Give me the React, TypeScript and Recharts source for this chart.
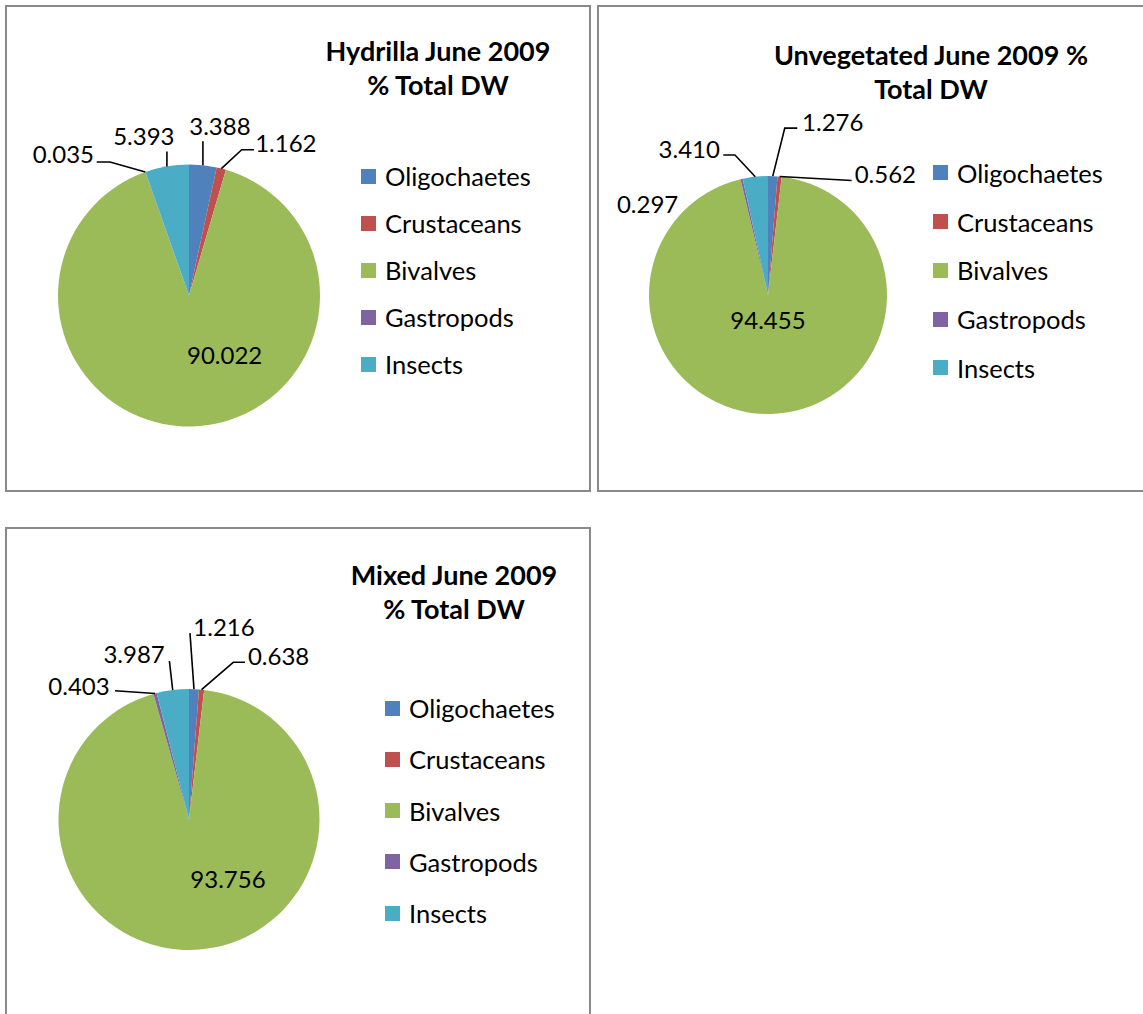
import React from 'react';
import { PieChart, Pie, Cell, Legend } from 'recharts';

// ---------- data ----------
const CATEGORIES = ['Oligochaetes', 'Crustaceans', 'Bivalves', 'Gastropods', 'Insects'];
const HYDRILLA = [3.388, 1.162, 90.022, 0.035, 5.393];
const UNVEGETATED = [1.276, 0.562, 94.455, 0.297, 3.41];
const MIXED = [1.216, 0.638, 93.756, 0.403, 3.987];
const TITLES = [
  ['Hydrilla June 2009', '% Total DW'],
  ['Unvegetated June 2009 %', 'Total DW'],
  ['Mixed June 2009', '% Total DW'],
];

// ---------- styles ----------
const COLORS = ['#4F81BD', '#C0504D', '#9BBB59', '#8064A2', '#4BACC6'];
const FONT = "Lato, 'Open Sans', 'Noto Sans', sans-serif";
const BORDER = '#898989';

type LabelLayout = { text: [number, number]; leader?: [number, number][] };

// label text offset & leader polyline, relative to the slice's outer-edge midpoint
const LAYOUT_HYDRILLA: LabelLayout[] = [
  { text: [17, -40], leader: [[0, 0], [0, -24]] },
  { text: [64.5, -26.4], leader: [[0, 0], [20.4, -18.8], [32.7, -18.8]] },
  { text: [32, -72] },
  { text: [-82, -18.2], leader: [[0, 0], [-35.3, -10], [-48.6, -10]] },
  { text: [-23.1, -31.2], leader: [[0, 0], [0, -15]] },
];
const LAYOUT_UNVEG: LabelLayout[] = [
  { text: [60, -55], leader: [[0, 0], [12, -48], [24.5, -48]] },
  { text: [105.7, -3.3], leader: [[0, 0], [72, 4]] },
  { text: [-7, -94] },
  { text: [-94, 24.3] },
  { text: [-66, -28.4], leader: [[0, 0], [-20.3, -21.7], [-32, -21.7]] },
];
const LAYOUT_MIXED: LabelLayout[] = [
  { text: [30, -62.5], leader: [[0, 0], [-4, -56]] },
  { text: [77, -34.6], leader: [[0, 0], [31.7, -27.3], [43.4, -27.3]] },
  { text: [28.6, -70.6] },
  { text: [-76, -8], leader: [[0, 0], [-40, -2.8]] },
  { text: [-38.6, -36.7], leader: [[0, 0], [-3.3, -29]] },
];

const RAD = Math.PI / 180;

function makeLabel(layout: LabelLayout[]) {
  return (props: any) => {
    const { cx, cy, midAngle, outerRadius, index, value } = props;
    const ex = cx + outerRadius * Math.cos(midAngle * RAD);
    const ey = cy - outerRadius * Math.sin(midAngle * RAD);
    const l = layout[index];
    const pts = l.leader ? l.leader.map(([dx, dy]) => `${ex + dx},${ey + dy}`).join(' ') : null;
    return (
      <g key={`lbl-${index}`}>
        {pts && <polyline points={pts} fill="none" stroke="#000" strokeWidth={1.6} />}
        <text
          x={ex + l.text[0]}
          y={ey + l.text[1]}
          textAnchor="middle"
          dominantBaseline="central"
          fontFamily={FONT}
          fontSize={24}
          fill="#000"
        >
          {Number(value).toFixed(3)}
        </text>
      </g>
    );
  };
}

function makeLegend(spacing: number) {
  return (props: any) => {
    const payload = [...(props.payload || [])].sort(
      (a: any, b: any) => CATEGORIES.indexOf(a.value) - CATEGORIES.indexOf(b.value)
    );
    return (
      <div style={{ fontFamily: FONT, fontSize: 25.5, color: '#000' }}>
        {payload.map((p: any, i: number) => (
          <div key={i} style={{ height: spacing, display: 'flex', alignItems: 'center', whiteSpace: 'nowrap' }}>
            <span style={{ width: 15, height: 15, background: p.color, display: 'inline-block', marginRight: 9, flex: 'none' }} />
            <span>{p.value}</span>
          </div>
        ))}
      </div>
    );
  };
}

type PanelProps = {
  left: number; top: number; width: number; height: number;
  values: number[]; layout: LabelLayout[]; title: string[];
  cx: number; cy: number; r: number;
  legendLeft: number; legendTop: number; legendSpacing: number;
  titleCenter: number; titleTop: number;
};

function Panel(p: PanelProps) {
  const data = CATEGORIES.map((name, i) => ({ name, value: p.values[i] }));
  return (
    <div
      style={{
        position: 'absolute', left: p.left, top: p.top, width: p.width, height: p.height,
        border: `2px solid ${BORDER}`, boxSizing: 'border-box', background: '#fff',
      }}
    >
      <div style={{ position: 'absolute', left: -2, top: -2 }}>
        <PieChart width={p.width} height={p.height} margin={{ top: 0, right: 0, bottom: 0, left: 0 }}>
          <Pie
            data={data}
            dataKey="value"
            nameKey="name"
            cx={p.cx}
            cy={p.cy}
            outerRadius={p.r}
            startAngle={90}
            endAngle={-270}
            stroke="none"
            isAnimationActive={false}
            labelLine={false}
            label={makeLabel(p.layout)}
          >
            {data.map((d, i) => (
              <Cell key={d.name} fill={COLORS[i]} />
            ))}
          </Pie>
          <Legend
            layout="vertical"
            verticalAlign="top"
            align="right"
            itemSorter={null as any}
            content={makeLegend(p.legendSpacing)}
            wrapperStyle={{ left: p.legendLeft, top: p.legendTop, width: 220, right: 'auto' }}
          />
        </PieChart>
      </div>
      <div
        style={{
          position: 'absolute', left: p.titleCenter - 200 - 2, top: p.titleTop - 2, width: 400,
          textAlign: 'center', fontFamily: FONT, fontWeight: 700, fontSize: 27, lineHeight: '34px', color: '#000',
        }}
      >
        {p.title[0]}
        <br />
        {p.title[1]}
      </div>
    </div>
  );
}

export default function App() {
  return (
    <div style={{ position: 'absolute', left: 0, top: 0, width: 1143, height: 1014, overflow: 'hidden', background: '#fff' }}>
      <Panel
        left={5} top={5} width={586} height={487}
        values={HYDRILLA} layout={LAYOUT_HYDRILLA} title={TITLES[0]}
        cx={184} cy={290.5} r={131}
        legendLeft={356} legendTop={147.5} legendSpacing={47}
        titleCenter={433} titleTop={29}
      />
      <Panel
        left={597} top={5} width={548} height={487}
        values={UNVEGETATED} layout={LAYOUT_UNVEG} title={TITLES[1]}
        cx={171} cy={290} r={119}
        legendLeft={336} legendTop={143.6} legendSpacing={48.75}
        titleCenter={334} titleTop={33}
      />
      <Panel
        left={5} top={527} width={586} height={520}
        values={MIXED} layout={LAYOUT_MIXED} title={TITLES[2]}
        cx={184} cy={292.5} r={130.5}
        legendLeft={380} legendTop={155.4} legendSpacing={51.25}
        titleCenter={449} titleTop={31}
      />
    </div>
  );
}
